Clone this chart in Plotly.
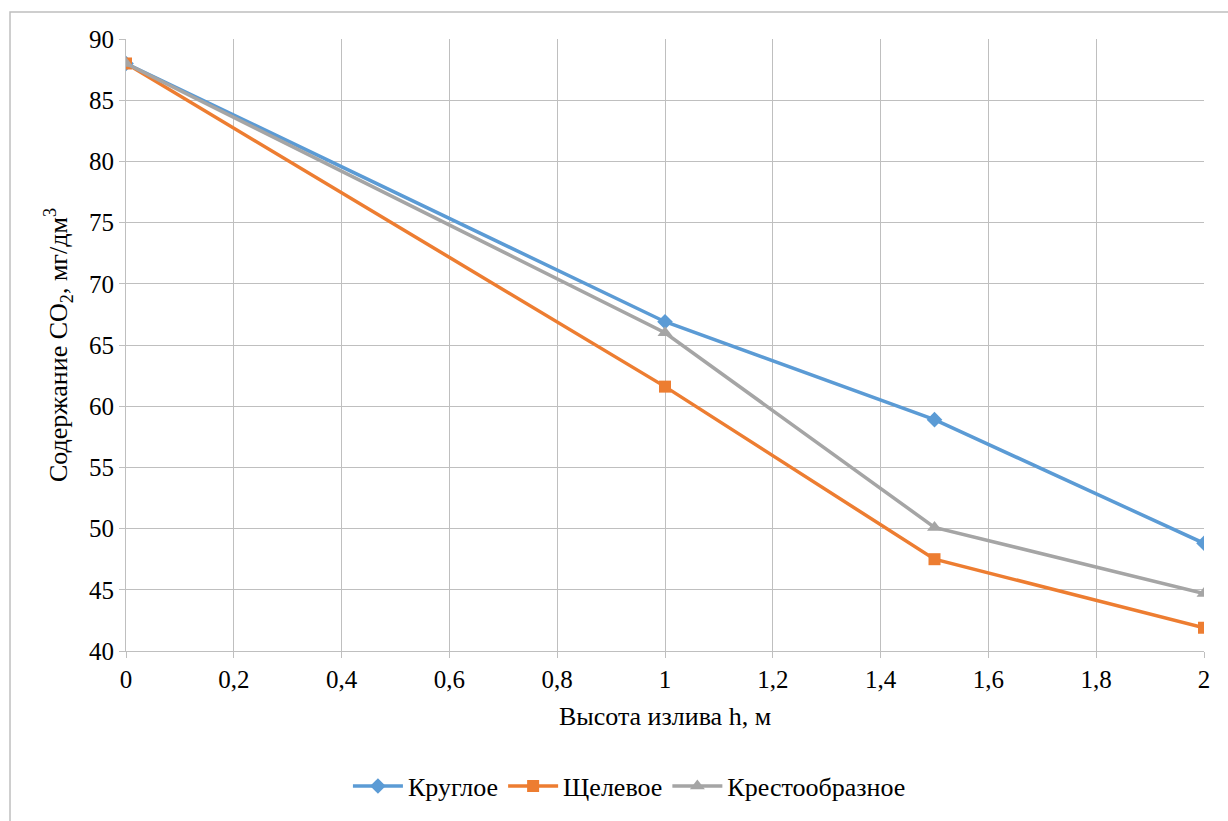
import plotly.graph_objects as go

x_vals = [0, 1, 1.5, 2]
krugloe = [88.0, 66.9, 58.9, 48.8]
shchelevoe = [88.0, 61.6, 47.5, 41.9]
krestoobraznoe = [88.0, 66.0, 50.1, 44.7]

x_ticks = [0, 0.2, 0.4, 0.6, 0.8, 1, 1.2, 1.4, 1.6, 1.8, 2]
x_tick_labels = ["0", "0,2", "0,4", "0,6", "0,8", "1", "1,2", "1,4", "1,6", "1,8", "2"]
y_ticks = [40, 45, 50, 55, 60, 65, 70, 75, 80, 85, 90]

font_family = "Liberation Serif"
fs_tick = 25
fs_text = 26

fig = go.Figure()
fig.add_trace(go.Scatter(x=x_vals, y=krugloe, mode="lines+markers", name="Круглое",
                         line=dict(color="#5B9BD5", width=3.5),
                         marker=dict(symbol="diamond", size=12, color="#5B9BD5")))
fig.add_trace(go.Scatter(x=x_vals, y=shchelevoe, mode="lines+markers", name="Щелевое",
                         line=dict(color="#ED7D31", width=3.5),
                         marker=dict(symbol="square", size=12, color="#ED7D31")))
fig.add_trace(go.Scatter(x=x_vals, y=krestoobraznoe, mode="lines+markers", name="Крестообразное",
                         line=dict(color="#A5A5A5", width=3.5),
                         marker=dict(symbol="triangle-up", size=13, color="#A5A5A5")))

grid_color = "#BFBFBF"
fig.update_layout(
    width=1228, height=821,
    margin=dict(l=126, r=24, t=39, b=170),
    paper_bgcolor="white", plot_bgcolor="white",
    font=dict(family=font_family, size=fs_text, color="#000000"),
    xaxis=dict(range=[0, 2], tickvals=x_ticks, ticktext=x_tick_labels,
               showgrid=True, gridcolor=grid_color, gridwidth=1,
               showline=True, linecolor=grid_color, linewidth=1,
               ticks="outside", ticklen=6, tickcolor=grid_color,
               zeroline=False, tickfont=dict(family=font_family, size=fs_tick),
               title=dict(text="Высота излива h, м", standoff=14,
                          font=dict(family=font_family, size=fs_text))),
    yaxis=dict(range=[40, 90], tickvals=y_ticks,
               showgrid=True, gridcolor=grid_color, gridwidth=1,
               showline=True, linecolor=grid_color, linewidth=1,
               ticks="outside", ticklen=6, tickcolor=grid_color,
               zeroline=False, tickfont=dict(family=font_family, size=fs_tick),
               title=dict(text="Содержание CO<sub>2</sub>, мг/дм<sup>3</sup>", standoff=13,
                          font=dict(family=font_family, size=fs_text))),
    legend=dict(orientation="h", x=0.467, xanchor="center",
                yref="container", y=0.0426, yanchor="middle",
                font=dict(family=font_family, size=fs_text), itemwidth=50,
                bgcolor="rgba(0,0,0,0)"),
    showlegend=True,
)

# outer chart frame (left and top edges visible)
fig.add_shape(type="rect", xref="paper", yref="paper",
              x0=-0.1076, x1=1.1, y0=-0.5, y1=1.044,
              line=dict(color="#BFBFBF", width=1.5), layer="below")

fig.write_html("out.html")
